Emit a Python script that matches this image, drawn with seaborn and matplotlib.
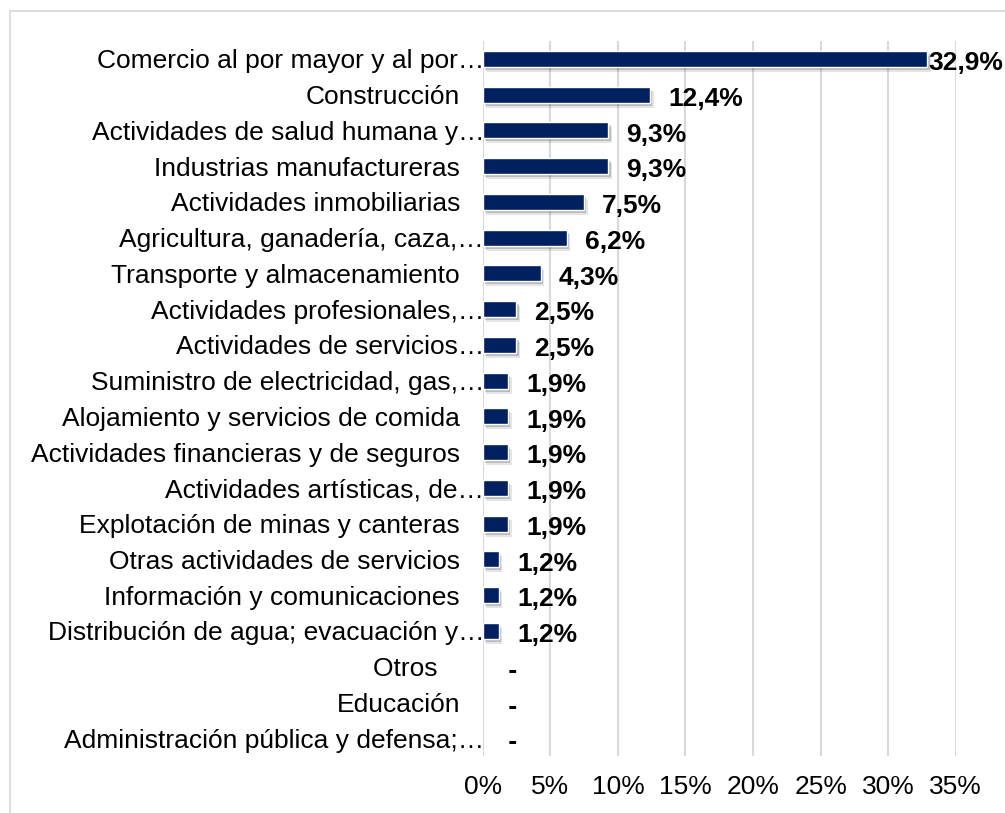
import matplotlib
matplotlib.use("Agg")
import matplotlib.pyplot as plt
import matplotlib.patheffects as pe
from matplotlib.transforms import ScaledTranslation
from matplotlib.patches import Rectangle
import seaborn as sns
import pandas as pd

categories = [
    "Comercio al por mayor y al por…",
    "Construcción",
    "Actividades de salud humana y…",
    "Industrias manufactureras",
    "Actividades inmobiliarias",
    "Agricultura, ganadería, caza,…",
    "Transporte y almacenamiento",
    "Actividades profesionales,…",
    "Actividades de servicios…",
    "Suministro de electricidad, gas,…",
    "Alojamiento y servicios de comida",
    "Actividades financieras y de seguros",
    "Actividades artísticas, de…",
    "Explotación de minas y canteras",
    "Otras actividades de servicios",
    "Información y comunicaciones",
    "Distribución de agua; evacuación y…",
    "Otros   ",
    "Educación",
    "Administración pública y defensa;…",
]
values = [32.9, 12.4, 9.3, 9.3, 7.5, 6.2, 4.3, 2.5, 2.5, 1.9, 1.9, 1.9, 1.9, 1.9,
          1.2, 1.2, 1.2, 0.0, 0.0, 0.0]
xticks = [0, 5, 10, 15, 20, 25, 30, 35]
xtick_labels = ["0%", "5%", "10%", "15%", "20%", "25%", "30%", "35%"]

BAR = "#002060"
GRID = "#d9d9d9"

sns.set_theme(style="white")
plt.rcParams["font.family"] = ["Liberation Sans", "DejaVu Sans"]

df = pd.DataFrame({"cat": categories, "val": values})

fig = plt.figure(figsize=(10.05, 8.13), dpi=100)
ax = fig.add_axes([0.4803, 0.0701, 0.9511 - 0.4803, 0.9496 - 0.0701])

sns.barplot(data=df, x="val", y="cat", orient="h", color=BAR, saturation=1,
            width=0.45, ax=ax, zorder=3)

for p in ax.patches:
    if p.get_width() > 0:
        p.set_path_effects([
            pe.SimplePatchShadow(offset=(2.5, -3.5), shadow_rgbFace="#000000", alpha=0.10),
            pe.SimplePatchShadow(offset=(1.5, -2.2), shadow_rgbFace="#000000", alpha=0.18),
            pe.Normal()])
    else:
        p.set_visible(False)

ax.set_xlim(0, 35)
ax.set_ylim(len(categories) - 0.5, -0.5)
ax.set_xticks(xticks)
ax.set_xticklabels(xtick_labels)
ax.set_xlabel("")
ax.set_ylabel("")
ax.grid(axis="x", color=GRID, linewidth=1.5, zorder=0)
ax.grid(axis="y", visible=False)
ax.set_axisbelow(True)
for s in ax.spines.values():
    s.set_visible(False)
ax.tick_params(axis="x", length=0, pad=14, labelsize=19, colors="black")
ax.tick_params(axis="y", length=0, pad=16.3, labelsize=19, colors="black")

fig.canvas.draw()
for lab in ax.get_yticklabels():
    if lab.get_text().endswith("…"):
        lab.set_transform(lab.get_transform() + ScaledTranslation(24 / 100, 0, fig.dpi_scale_trans))

# value labels
renderer = fig.canvas.get_renderer()
W = fig.bbox.width
for i, v in enumerate(values):
    txt = (" -" if v == 0 else f"{v:.1f}%".replace(".", ","))
    t = ax.annotate(txt, xy=(v, i), xytext=(18 * 0.72, -1.2), textcoords="offset points",
                    ha="left", va="center_baseline", fontsize=19, fontweight="bold",
                    color="black", zorder=5)
    bb = t.get_window_extent(renderer)
    if bb.x1 > W - 2:
        shift = (bb.x1 - (W - 2)) * 0.72
        t.set_position((18 * 0.72 - shift, -1.2))

fig.patches.append(Rectangle((10 / 1005, -0.2), 1.5, 1 - 11 / 813 + 0.2,
                             transform=fig.transFigure, fill=False,
                             edgecolor=GRID, linewidth=1.2))

fig.savefig("out.png", dpi=100)
